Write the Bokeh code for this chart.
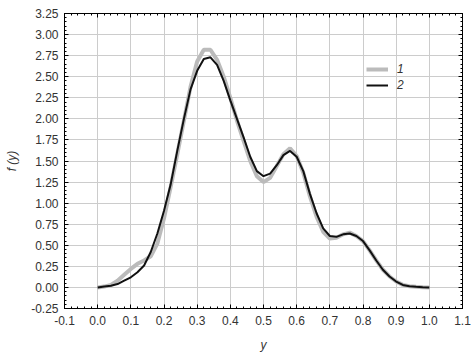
from bokeh.plotting import figure
from bokeh.models import LinearAxis, Range1d, FixedTicker, Legend, LegendItem, CustomJSTickFormatter
from bokeh.embed import file_html
from bokeh.resources import INLINE

y_vals = [0.00, 0.02, 0.04, 0.06, 0.08, 0.10, 0.12, 0.14, 0.16, 0.18, 0.20, 0.22, 0.24, 0.26, 0.28,
          0.30, 0.32, 0.34, 0.36, 0.38, 0.40, 0.42, 0.44, 0.46, 0.48, 0.50, 0.52, 0.54, 0.56, 0.58,
          0.60, 0.62, 0.64, 0.66, 0.68, 0.70, 0.72, 0.74, 0.76, 0.78, 0.80, 0.82, 0.84, 0.86, 0.88,
          0.90, 0.92, 0.94, 0.96, 0.98, 1.00]

f1 = [0.00, 0.01, 0.03, 0.08, 0.15, 0.22, 0.28, 0.32, 0.37, 0.52, 0.82, 1.19, 1.58, 1.98, 2.38,
      2.68, 2.82, 2.82, 2.70, 2.50, 2.25, 1.98, 1.74, 1.50, 1.32, 1.25, 1.30, 1.44, 1.58, 1.65,
      1.56, 1.36, 1.08, 0.84, 0.66, 0.58, 0.59, 0.63, 0.65, 0.61, 0.55, 0.44, 0.32, 0.21, 0.13,
      0.07, 0.03, 0.015, 0.008, 0.003, 0.00]

f2 = [0.00, 0.01, 0.02, 0.04, 0.08, 0.12, 0.18, 0.26, 0.42, 0.64, 0.91, 1.22, 1.62, 2.00, 2.35,
      2.57, 2.71, 2.73, 2.64, 2.45, 2.22, 2.00, 1.78, 1.55, 1.38, 1.32, 1.35, 1.45, 1.57, 1.62,
      1.55, 1.38, 1.11, 0.88, 0.70, 0.61, 0.60, 0.63, 0.64, 0.61, 0.55, 0.44, 0.32, 0.21, 0.13,
      0.07, 0.03, 0.015, 0.008, 0.003, 0.00]

x_ticks = [-0.1, 0.0, 0.1, 0.2, 0.3, 0.4, 0.5, 0.6, 0.7, 0.8, 0.9, 1.0, 1.1]
y_ticks = [-0.25, 0.0, 0.25, 0.5, 0.75, 1.0, 1.25, 1.5, 1.75, 2.0, 2.25, 2.5, 2.75, 3.0, 3.25]
series_names = ["1", "2"]

FONT = "Liberation Sans"

p = figure(width=476, height=359, output_backend="svg", toolbar_location=None,
           x_range=Range1d(-0.1, 1.1), y_range=Range1d(-0.25, 3.25),
           x_axis_label="y", y_axis_label="f (y)")
p.min_border_left = 64
p.min_border_right = 14
p.min_border_top = 13
p.min_border_bottom = 51
p.outline_line_color = "black"
p.background_fill_color = "white"
p.border_fill_color = "white"

r1 = p.line(y_vals, f1, line_color="#bbbbbb", line_width=4)
r2 = p.line(y_vals, f2, line_color="#111111", line_width=2)

minor_x = [round(-0.1 + i * 0.02, 4) for i in range(61)]
minor_y = [round(-0.25 + i * 0.05, 4) for i in range(71)]

def style(ax):
    ax.axis_line_color = "black"
    ax.major_tick_in = 4
    ax.major_tick_out = 0
    ax.minor_tick_in = 2
    ax.minor_tick_out = 0
    ax.major_tick_line_color = "black"
    ax.minor_tick_line_color = "black"
    ax.major_label_text_font = FONT
    ax.major_label_text_font_size = "12px"
    ax.major_label_text_color = "#333333"
    ax.axis_label_text_font = FONT
    ax.axis_label_text_font_size = "12px"
    ax.axis_label_text_font_style = "italic"
    ax.axis_label_text_color = "#333333"

xt = FixedTicker(ticks=x_ticks, minor_ticks=minor_x)
yt = FixedTicker(ticks=y_ticks, minor_ticks=minor_y)
p.xaxis.ticker = xt
p.yaxis.ticker = yt
p.xaxis.major_label_overrides = {t: f"{t:.1f}" for t in x_ticks}
p.yaxis.major_label_overrides = {t: f"{t:.2f}" for t in y_ticks}
style(p.xaxis[0])
style(p.yaxis[0])
p.xaxis.axis_label_standoff = 10
p.yaxis.axis_label_standoff = 9
p.xaxis.major_label_standoff = 7
p.yaxis.major_label_standoff = 6

top = LinearAxis(ticker=FixedTicker(ticks=x_ticks, minor_ticks=minor_x),
                 formatter=CustomJSTickFormatter(code="return '';"))
right = LinearAxis(ticker=FixedTicker(ticks=y_ticks, minor_ticks=minor_y),
                   formatter=CustomJSTickFormatter(code="return '';"))
style(top)
style(right)
top.major_label_standoff = 0
right.major_label_standoff = 0
p.add_layout(top, "above")
p.add_layout(right, "right")

p.xgrid.ticker = xt
p.ygrid.ticker = yt
p.grid.grid_line_color = "#cccccc"
p.grid.grid_line_width = 1

legend = Legend(items=[LegendItem(label=series_names[0], renderers=[r1]),
                       LegendItem(label=series_names[1], renderers=[r2])],
                location=(302, 215))
legend.background_fill_alpha = 0
legend.border_line_alpha = 0
legend.padding = 0
legend.margin = 0
legend.spacing = 0
legend.glyph_width = 22
legend.glyph_height = 16
legend.label_standoff = 9
legend.label_text_font = FONT
legend.label_text_font_style = "italic"
legend.label_text_font_size = "12px"
legend.label_text_color = "#333333"
legend.label_height = 16
p.add_layout(legend)

open("out.html", "w").write(file_html(p, INLINE))
